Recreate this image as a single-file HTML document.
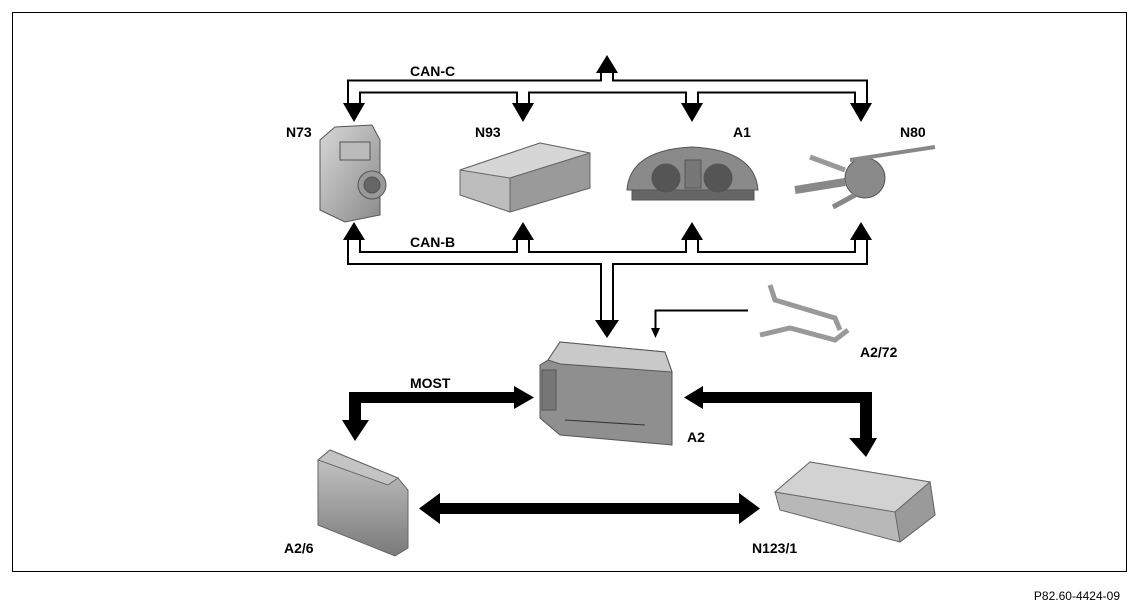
<!DOCTYPE html>
<html><head><meta charset="utf-8"><style>
html,body{margin:0;padding:0;background:#fff;}
body{width:1132px;height:608px;position:relative;overflow:hidden;font-family:"Liberation Sans",Arial,sans-serif;}
</style></head><body>
<svg width="1132" height="608" viewBox="0 0 1132 608" xmlns="http://www.w3.org/2000/svg" style="position:absolute;left:0;top:0">
<defs>
<linearGradient id="g1" x1="0" y1="0" x2="1" y2="1"><stop offset="0" stop-color="#d8d8d8"/><stop offset="1" stop-color="#8a8a8a"/></linearGradient>
<linearGradient id="g2" x1="0" y1="0" x2="0" y2="1"><stop offset="0" stop-color="#c8c8c8"/><stop offset="1" stop-color="#7a7a7a"/></linearGradient>
</defs>
<rect x="12.5" y="12.5" width="1114" height="559" fill="none" stroke="#000" stroke-width="1"/>
<text x="1120" y="600" font-size="12" text-anchor="end" fill="#000">P82.60-4424-09</text>

<!-- CAN-C tubes -->
<g fill="none" stroke-linejoin="miter" stroke-linecap="butt">
<path d="M354,104 V86.5 H861 V104 M523,86.5 V104 M692,86.5 V104 M607,86.5 V72" stroke="#000" stroke-width="14"/>
<path d="M354,106 V86.5 H861 V106 M523,86.5 V106 M692,86.5 V106 M607,86.5 V70" stroke="#fff" stroke-width="10"/>
<!-- CAN-B tubes -->
<path d="M354,238 V258 H861 V238 M523,258 V238 M692,258 V238 M607,258 V322" stroke="#000" stroke-width="14"/>
<path d="M354,236 V258 H861 V236 M523,258 V236 M692,258 V236 M607,258 V324" stroke="#fff" stroke-width="10"/>
</g>
<g fill="#000">
<polygon points="343,103 365,103 354,122"/>
<polygon points="512,103 534,103 523,122"/>
<polygon points="681,103 703,103 692,122"/>
<polygon points="850,103 872,103 861,122"/>
<polygon points="596,73 618,73 607,55"/>
<polygon points="343,240 365,240 354,222"/>
<polygon points="512,240 534,240 523,222"/>
<polygon points="681,240 703,240 692,222"/>
<polygon points="850,240 872,240 861,222"/>
<polygon points="595,320 619,320 607,338"/>
</g>
<!-- A2/72 thin line -->
<path d="M748,310.5 H655.5 V330" fill="none" stroke="#000" stroke-width="2"/>
<polygon points="651,328 660,328 655.5,338" fill="#000"/>

<!-- MOST thick arrows -->
<g fill="#000">
<rect x="349" y="392" width="168" height="11"/>
<rect x="349" y="392" width="12" height="30"/>
<polygon points="514,386 514,409 534,397.5"/>
<polygon points="342,420 369,420 355,441"/>
<rect x="700" y="392" width="172" height="11"/>
<rect x="860" y="392" width="12" height="50"/>
<polygon points="703,386 703,409 684,397.5"/>
<polygon points="849,438 877,438 866,457"/>
<rect x="436" y="503" width="306" height="11"/>
<polygon points="440,493 440,524 419,508.5"/>
<polygon points="739,493 739,524 760,508.5"/>
</g>

<!-- component sketches -->
<!-- N73 -->
<g stroke="#555" stroke-width="1">
<path d="M320,140 L335,127 L372,125 L380,140 L380,215 L345,222 L320,210 Z" fill="url(#g1)"/>
<rect x="340" y="142" width="30" height="18" fill="#bbb"/>
<circle cx="372" cy="185" r="14" fill="#999"/><circle cx="372" cy="185" r="8" fill="#666"/>
</g>
<!-- N93 -->
<g stroke="#666" stroke-width="1">
<polygon points="460,170 540,143 590,153 590,188 510,212 460,195" fill="#bdbdbd"/>
<polygon points="460,170 540,143 590,153 510,178" fill="#d6d6d6"/>
<polygon points="510,178 590,153 590,188 510,212" fill="#9a9a9a"/>
</g>
<!-- A1 -->
<g stroke="#555" stroke-width="1">
<path d="M627,190 Q630,150 692,147 Q755,150 758,190 Z" fill="#8a8a8a"/>
<rect x="632" y="190" width="122" height="10" fill="#666"/>
<circle cx="666" cy="178" r="14" fill="#555"/><circle cx="718" cy="178" r="14" fill="#555"/>
<rect x="685" y="160" width="16" height="28" fill="#777"/>
</g>
<!-- N80 -->
<g stroke="#555" stroke-width="1" fill="#aaa">
<circle cx="865" cy="178" r="20" fill="#8a8a8a"/>
<path d="M850,160 L935,147" stroke="#888" stroke-width="4"/>
<path d="M845,170 L810,157" stroke="#999" stroke-width="5"/>
<path d="M845,182 L795,190" stroke="#888" stroke-width="8"/>
<path d="M855,195 L833,207" stroke="#888" stroke-width="5"/>
</g>
<!-- A2/72 -->
<g stroke="#666" fill="none">
<path d="M770,285 L775,300 L835,318 L840,330" stroke-width="5" stroke="#999"/>
<path d="M760,335 L790,328 L835,340 L848,330" stroke-width="5" stroke="#999"/>
</g>
<!-- A2 -->
<g stroke="#555" stroke-width="1">
<polygon points="548,360 560,342 665,352 672,372 672,445 560,435 540,418 540,365" fill="#8f8f8f"/>
<polygon points="548,360 560,342 665,352 672,372 560,364" fill="#c9c9c9"/>
<rect x="542" y="370" width="14" height="40" fill="#777"/>
<line x1="565" y1="420" x2="645" y2="425" stroke="#333"/>
</g>
<!-- A2/6 -->
<g stroke="#666" stroke-width="1">
<polygon points="318,460 330,450 398,478 408,490 408,548 395,556 318,525" fill="url(#g2)"/>
<polygon points="318,460 330,450 398,478 388,485" fill="#c4c4c4"/>
</g>
<!-- N123/1 -->
<g stroke="#666" stroke-width="1">
<polygon points="775,492 810,462 930,482 935,515 900,542 780,510" fill="#b8b8b8"/>
<polygon points="775,492 810,462 930,482 895,512" fill="#d2d2d2"/>
<polygon points="895,512 930,482 935,515 900,542" fill="#9a9a9a"/>
</g>

<g font-weight="bold" font-size="14" fill="#000">
<text x="286" y="137">N73</text>
<text x="475" y="137">N93</text>
<text x="733" y="137">A1</text>
<text x="900" y="137">N80</text>
<text x="410" y="76">CAN-C</text>
<text x="410" y="247">CAN-B</text>
<text x="860" y="357">A2/72</text>
<text x="410" y="388">MOST</text>
<text x="687" y="442">A2</text>
<text x="284" y="553">A2/6</text>
<text x="752" y="553">N123/1</text>
</g>
</svg>
</body></html>
